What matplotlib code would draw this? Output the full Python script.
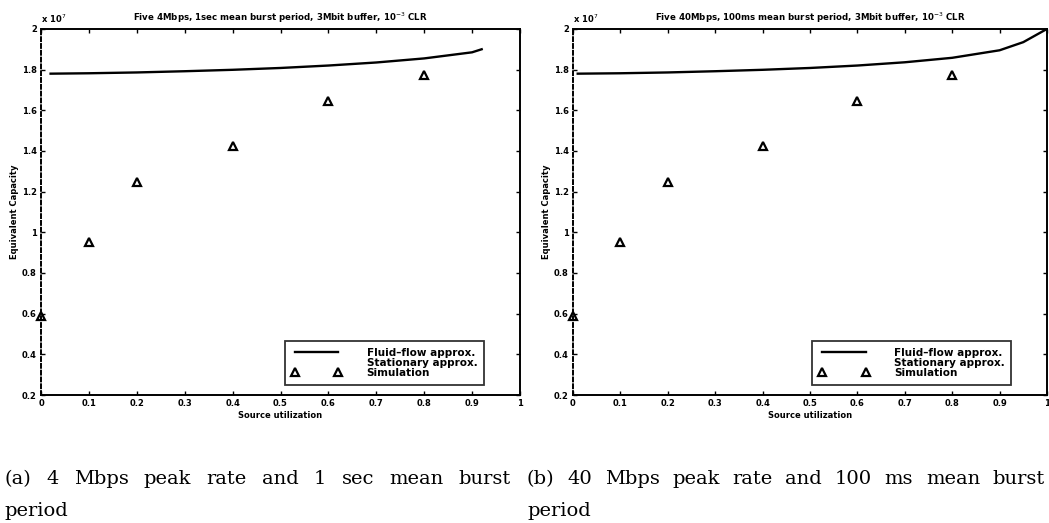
import matplotlib
matplotlib.use("Agg")
import matplotlib.pyplot as plt

# ---- data ----
sim_util = [0.0, 0.1, 0.2, 0.4, 0.6, 0.8]
sim_cap_a = [0.59, 0.95, 1.245, 1.425, 1.645, 1.775]
sim_cap_b = [0.59, 0.95, 1.245, 1.425, 1.645, 1.775]

fluid_util_a = [0.02, 0.1, 0.2, 0.3, 0.4, 0.5, 0.6, 0.7, 0.8, 0.9, 0.92]
fluid_cap_a = [1.78, 1.782, 1.786, 1.792, 1.799, 1.808, 1.82, 1.835, 1.855, 1.885, 1.90]
fluid_util_b = [0.01, 0.1, 0.2, 0.3, 0.4, 0.5, 0.6, 0.7, 0.8, 0.9, 0.95, 1.0]
fluid_cap_b = [1.78, 1.782, 1.786, 1.792, 1.799, 1.808, 1.82, 1.836, 1.858, 1.895, 1.935, 2.0]

xticks = [0, 0.1, 0.2, 0.3, 0.4, 0.5, 0.6, 0.7, 0.8, 0.9, 1]
xticklabels = ["0", "0.1", "0.2", "0.3", "0.4", "0.5", "0.6", "0.7", "0.8", "0.9", "1"]
yticks = [0.2, 0.4, 0.6, 0.8, 1.0, 1.2, 1.4, 1.6, 1.8, 2.0]
yticklabels = ["0.2", "0.4", "0.6", "0.8", "1", "1.2", "1.4", "1.6", "1.8", "2"]

titles = [r"Five 4Mbps, 1sec mean burst period, 3Mbit buffer, 10$^{-3}$ CLR",
          r"Five 40Mbps, 100ms mean burst period, 3Mbit buffer, 10$^{-3}$ CLR"]
caption_line1 = ["(a) 4 Mbps peak rate and 1 sec mean burst",
                 "(b) 40 Mbps peak rate and 100 ms mean burst"]
caption_line2 = ["period", "period"]

fig = plt.figure(figsize=(10.49, 5.23), dpi=100)
plt.rcParams['font.family'] = ['DejaVu Sans']

axes_rects = [[0.0391, 0.2447, 0.4566, 0.70], [0.5462, 0.2447, 0.4519, 0.70]]
datasets = [(fluid_util_a, fluid_cap_a, sim_cap_a), (fluid_util_b, fluid_cap_b, sim_cap_b)]
caption_span = [(4, 511), (527, 1045)]
W, H = 1049, 523
CAP_FS = 14
CAP_FAMILY = 'DejaVu Serif'

renderer = fig.canvas.get_renderer()


def justified(x0, x1, y, text):
    words = text.split()
    widths = []
    for w in words:
        t = fig.text(0, 0, w, fontsize=CAP_FS, family=CAP_FAMILY)
        widths.append(t.get_window_extent(renderer).width)
        t.remove()
    gap = (x1 - x0 - sum(widths)) / (len(words) - 1)
    x = x0
    for w, wd in zip(words, widths):
        fig.text(x / W, 1 - y / H, w, fontsize=CAP_FS, family=CAP_FAMILY,
                 ha='left', va='center')
        x += wd + gap


for i, rect in enumerate(axes_rects):
    ax = fig.add_axes(rect)
    fu, fc, sc = datasets[i]
    ax.plot(fu, fc, color='black', lw=1.7, label='Fluid\u2013flow approx.')
    ax.plot([], [], ls='none', label='Stationary approx.')
    ax.plot(sim_util, sc, ls='none', marker='^', ms=5.5, mfc='white', mec='black',
            mew=1.6, label='Simulation', clip_on=False)
    ax.set_xlim(0, 1)
    ax.set_ylim(0.2, 2.0)
    ax.set_xticks(xticks)
    ax.set_xticklabels(xticklabels, fontsize=6, fontweight='bold')
    ax.set_yticks(yticks)
    ax.set_yticklabels(yticklabels, fontsize=6, fontweight='bold')
    ax.tick_params(direction='in', length=3, width=1, top=True, right=True, pad=3)
    for s in ax.spines.values():
        s.set_linewidth(1.4)
    ax.spines['left'].set_linestyle((0, (2, 1.5)))
    ax.set_title(titles[i], fontsize=6.2, fontweight='bold', pad=6)
    ax.set_xlabel('Source utilization', fontsize=6, fontweight='bold', labelpad=2)
    ax.set_ylabel('Equivalent Capacity', fontsize=6, fontweight='bold', labelpad=2)
    ax.text(0.0, 1.012, r'x 10$^{7}$', transform=ax.transAxes, fontsize=6,
            fontweight='bold', ha='left', va='bottom')
    leg = ax.legend(loc='lower right', bbox_to_anchor=(0.925, 0.028), fontsize=7.5,
                    frameon=True, fancybox=False, edgecolor='black', numpoints=2,
                    handlelength=4.8, borderpad=0.65, labelspacing=0.0,
                    handletextpad=2.4, borderaxespad=0)
    leg.get_frame().set_linewidth(1.3)
    for t in leg.get_texts():
        t.set_fontweight('bold')
    x0, x1 = caption_span[i]
    justified(x0, x1, 479, caption_line1[i])
    fig.text(x0 / W, 1 - 511 / H, caption_line2[i], fontsize=CAP_FS,
             family=CAP_FAMILY, ha='left', va='center')

fig.savefig('out.png', dpi=100)
